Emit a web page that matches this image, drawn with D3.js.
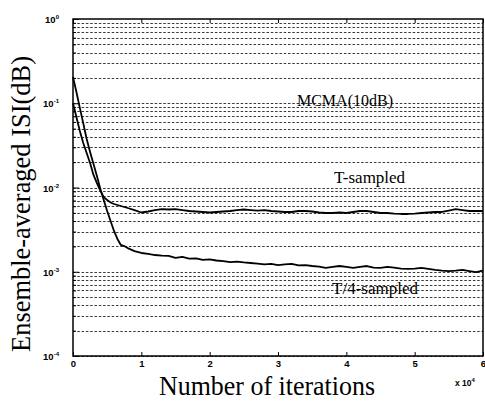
<!DOCTYPE html>
<html>
<head>
<meta charset="utf-8">
<script src="https://cdn.jsdelivr.net/npm/d3@7"></script>
<style>
  body { margin: 0; background: #fff; }
  svg { display: block; }
</style>
</head>
<body>
<div id="chart"></div>
<script>
// iterations sampled along the x axis
const iterations = [0, 500, 1000, 1500, 2000, 2500, 3000, 3500, 4000, 4500, 5000, 5500, 6000, 6500,
  7000, 7500, 8000, 9000, 10000,
  11000, 12000, 13000, 14000, 15000, 16000, 17000, 18000, 19000, 20000,
  21000, 22000, 23000, 24000, 25000, 26000, 27000, 28000, 29000, 30000,
  31000, 32000, 33000, 34000, 35000, 36000, 37000, 38000, 39000, 40000,
  41000, 42000, 43000, 44000, 45000, 46000, 47000, 48000, 49000, 50000,
  51000, 52000, 53000, 54000, 55000, 56000, 57000, 58000, 59000, 60000];

const tSampled = [0.100, 0.0687, 0.0469, 0.0337, 0.0257, 0.0195, 0.0141, 0.0113, 0.0092, 0.0077,
  0.0071, 0.00664, 0.00637, 0.0062, 0.00603, 0.00587, 0.00571, 0.0054, 0.00505,
  0.00519, 0.0054, 0.00555, 0.00548, 0.00555, 0.0054, 0.00526, 0.00519, 0.00512, 0.00505,
  0.00512, 0.00519, 0.00526, 0.0054, 0.00548, 0.0054, 0.00533, 0.0054, 0.00526, 0.00519,
  0.00512, 0.00512, 0.00526, 0.00526, 0.00519, 0.00505, 0.00498, 0.00498, 0.00505, 0.00498,
  0.00512, 0.00526, 0.00526, 0.00512, 0.00498, 0.00498, 0.0049, 0.00485, 0.00485, 0.0049,
  0.00498, 0.00505, 0.00512, 0.00512, 0.00533, 0.00555, 0.0054, 0.00526, 0.00526, 0.00526];

const t4Sampled = [0.205, 0.136, 0.088, 0.058, 0.0377, 0.0264, 0.0190, 0.0137, 0.0096, 0.0071,
  0.00526, 0.0040, 0.00305, 0.00245, 0.00208, 0.00202, 0.00191, 0.00176, 0.00167,
  0.00163, 0.00158, 0.00155, 0.00154, 0.00146, 0.00150, 0.00143, 0.00144, 0.00138, 0.0014,
  0.00136, 0.00134, 0.00130, 0.00132, 0.00129, 0.00127, 0.00125, 0.00122, 0.00124, 0.00120,
  0.00122, 0.00124, 0.00119, 0.00120, 0.00117, 0.00115, 0.00111, 0.00114, 0.00117, 0.00114,
  0.00111, 0.00114, 0.00117, 0.00112, 0.00111, 0.00114, 0.00112, 0.00109, 0.00108, 0.00109,
  0.00111, 0.00108, 0.00105, 0.00103, 0.00102, 0.00103, 0.00105, 0.00102, 0.00099, 0.00103];

const xTicks = [0, 10000, 20000, 30000, 40000, 50000, 60000];
const yExponents = [0, -1, -2, -3, -4];

const labels = [
  { text: 'MCMA(10dB)', iter: 39800, value: 0.094, size: 16 },
  { text: 'T-sampled', iter: 43400, value: 0.0113, size: 17 },
  { text: 'T/4-sampled', iter: 44200, value: 0.00054, size: 17 }
];

const width = 485, height = 401;
const margin = { top: 19, right: 2, bottom: 45, left: 73 };

const svg = d3.select('#chart').append('svg')
  .attr('width', width)
  .attr('height', height);

const x = d3.scaleLinear()
  .domain([0, 60000])
  .range([margin.left, width - margin.right]);

const y = d3.scaleLog()
  .domain([1e-4, 1])
  .range([height - margin.bottom, margin.top]);

// dashed grid at every log tick
const gridValues = [];
yExponents.slice(0, 4).forEach(e => {
  for (let m = 1; m < 10; m++) gridValues.push(m * Math.pow(10, e - 1));
});

svg.append('g')
  .selectAll('line')
  .data(gridValues)
  .join('line')
  .attr('x1', x(0))
  .attr('x2', x(60000))
  .attr('y1', d => Math.round(y(d)) + 0.5)
  .attr('y2', d => Math.round(y(d)) + 0.5)
  .attr('stroke', '#222')
  .attr('stroke-width', 0.9)
  .attr('stroke-dasharray', '2.5,1.8');

// frame
svg.append('rect')
  .attr('x', x(0))
  .attr('y', y(1))
  .attr('width', x(60000) - x(0))
  .attr('height', y(1e-4) - y(1))
  .attr('fill', 'none')
  .attr('stroke', '#000')
  .attr('stroke-width', 1.5);

// x axis ticks (inward) bottom and top
const xAxis = svg.append('g')
  .attr('transform', `translate(0,${y(1e-4)})`)
  .call(d3.axisBottom(x).tickValues(xTicks).tickSize(-4).tickFormat(d => d / 1e4));
xAxis.select('.domain').remove();
xAxis.selectAll('text')
  .attr('dy', '0.75em')
  .attr('y', 4)
  .style('font-family', 'Arial, "Liberation Sans", sans-serif')
  .style('font-weight', 'bold')
  .style('font-size', '9.5px');

const xTop = svg.append('g')
  .attr('transform', `translate(0,${y(1)})`)
  .call(d3.axisTop(x).tickValues(xTicks).tickSize(-4).tickFormat(''));
xTop.select('.domain').remove();

// y axis ticks: majors and minors, inward
const yMajor = svg.append('g')
  .attr('transform', `translate(${x(0)},0)`)
  .call(d3.axisLeft(y).tickValues(yExponents.map(e => Math.pow(10, e))).tickSize(-6).tickFormat(''));
yMajor.select('.domain').remove();

const yMinor = svg.append('g')
  .attr('transform', `translate(${x(0)},0)`)
  .call(d3.axisLeft(y).tickValues(gridValues.filter(v => Math.abs(Math.log10(v) % 1) > 1e-9)).tickSize(-3).tickFormat(''));
yMinor.select('.domain').remove();

// y tick labels 10^e
const yLab = svg.append('g')
  .style('font-family', 'Arial, "Liberation Sans", sans-serif')
  .style('font-weight', 'bold');
yExponents.forEach(e => {
  const t = yLab.append('text')
    .attr('x', x(0) - 14)
    .attr('y', y(Math.pow(10, e)) + 4)
    .attr('text-anchor', 'end')
    .style('font-size', '9.5px');
  t.append('tspan').text('10');
  t.append('tspan')
    .attr('dy', -4)
    .style('font-size', '6px')
    .text(e);
});

// x 10^4 multiplier
const mult = svg.append('text')
  .attr('x', 455)
  .attr('y', 386)
  .style('font-family', 'Arial, "Liberation Sans", sans-serif')
  .style('font-weight', 'bold')
  .style('font-size', '8.5px');
mult.append('tspan').text('x 10');
mult.append('tspan').attr('dy', -4).style('font-size', '6px').text('4');

// series
const line = d3.line()
  .x((d, i) => x(iterations[i]))
  .y(d => y(d));

[tSampled, t4Sampled].forEach(series => {
  svg.append('path')
    .datum(series)
    .attr('fill', 'none')
    .attr('stroke', '#000')
    .attr('stroke-width', 1.8)
    .attr('stroke-linejoin', 'round')
    .attr('d', line);
});

// annotations
svg.append('g')
  .selectAll('text')
  .data(labels)
  .join('text')
  .attr('x', d => x(d.iter))
  .attr('y', d => y(d.value))
  .attr('text-anchor', 'middle')
  .style('font-family', '"Liberation Serif", "Times New Roman", serif')
  .style('font-size', d => d.size + 'px')
  .text(d => d.text);

// axis titles
svg.append('text')
  .attr('x', 267)
  .attr('y', 395)
  .attr('text-anchor', 'middle')
  .attr('textLength', 216)
  .attr('lengthAdjust', 'spacingAndGlyphs')
  .style('font-family', '"Liberation Serif", "Times New Roman", serif')
  .style('font-size', '28px')
  .text('Number of iterations');

svg.append('text')
  .attr('transform', 'translate(30,204) rotate(-90)')
  .attr('text-anchor', 'middle')
  .attr('textLength', 296)
  .attr('lengthAdjust', 'spacingAndGlyphs')
  .style('font-family', '"Liberation Serif", "Times New Roman", serif')
  .style('font-size', '27px')
  .text('Ensemble-averaged ISI(dB)');
</script>
</body>
</html>
